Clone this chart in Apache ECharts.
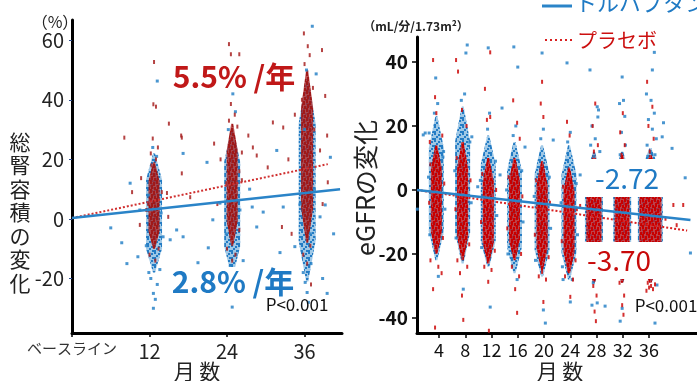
<!DOCTYPE html>
<html>
<head>
<meta charset="utf-8">
<script src="https://cdn.jsdelivr.net/npm/echarts@6/dist/echarts.min.js"></script>
<style>
  html, body { margin: 0; padding: 0; background: #fff; }
  #chart { width: 697px; height: 381px; }
</style>
</head>
<body>
<div id="chart"></div>
<script>
// ── Left panel: total kidney volume change (%) ─────────────────────────────
const tkvTicksX = [0, 12, 24, 36]
const tkvTicksY = [-20, 0, 20, 40, 60]
const tkvVisits = [12.7, 24.8, 36.4]
const tkvBlueCore = [[-18, 22], [-19, 30], [-21, 47]]   // [low, high] of the dense cloud
const tkvRedCore  = [[-10, 19], [-9, 32], [-8, 50]]
const tkvBlueFit = [[0, 0.3], [41.5, 10]]
const tkvRedFit  = [[0, 0.3], [39.6, 18.4]]
const tkvBluePts = [
  [12.2,-20],[13.2,-22],[12.6,-25],[12.9,-27],[12.6,-30],[11.9,-18],[13.6,-17],[12.5,24],[13.1,21],[11.8,8],[13.8,2],[14.1,-6],[11.5,-9],
  [13.2,46.3],[17.2,22],[7.7,-8],[10.2,-12.7],[10.5,3],[15.2,-7],[16.2,-3.7],[17.2,-6],[19.5,-14.7],[20.9,19],[21.1,-9.7],[22.9,5.3],[21.8,-0.3],[9.0,12],[6.0,-3],[8.5,-15],
  [24.5,-16],[25.1,-20],[24.7,-23],[24.9,-25.3],[24.4,-18],[25.4,-12],[23.9,-5],[26.0,3],[24.9,42],[25.3,36],[24.2,30],[24.8,-29.6],
  [27.9,4],[28.6,-2.7],[29.6,2.3],[32.7,4],[32.2,-11.3],[31.7,23],[26.5,-14],[27.5,10],[22.5,-22],[29.0,-18],
  [36.1,-21.3],[36.4,-24.7],[36.6,-28],[35.8,-18],[37.0,-15],[36.3,50],[37.2,64.7],[37.8,48.7],[36.0,30],[37.5,10],[35.3,5],[36.9,-5],
  [38.4,0.7],[39.2,4.7],[34.5,-9.3],[40.0,20.7],[38.8,-20],[40.5,-5],[34.2,-18],[39.5,-25]
]
const tkvRedPts = [
  [12.2,22],[13.3,24],[12.5,27],[13.0,20],[12.0,-12],[13.4,-10],[12.9,-14],[12.3,18],[11.8,5],[13.9,9],
  [8.1,27.3],[9.3,9],[10.7,13.7],[12.7,52.7],[13.0,37.7],[12.6,38.5],[15.0,32],[16.9,28],[14.7,8.7],[14.9,0.7],[17.0,15.3],[17.0,27.3],[18.3,7.3],[22.0,25.3],[10.5,-2],[11.5,3],
  [24.3,33],[25.2,35],[24.6,38.6],[25.6,31],[24.0,-10],[25.3,-12],[23.9,12],[25.9,16],[24.8,-14],
  [24.3,58.7],[24.6,55.3],[25.9,55.3],[26.3,22.3],[26.3,13],[25.9,-3.7],[28.0,24],[28.6,21.3],[30.3,17.3],[31.1,32.4],[32.7,30.7],[27.3,28],[32.5,-2.7],[23.0,20],[22.5,5],
  [36.0,52],[36.8,55],[35.9,62.3],[36.5,58],[37.3,44],[35.6,40],[36.9,-9],[35.8,-12],[36.4,-15],[37.5,30],
  [38.7,56.7],[39.2,41.3],[38.4,23],[39.6,12.3],[34.5,35],[33.5,20],[38.8,5],[39.5,28],[37.0,-22],[34.0,-5]
]

// ── Right panel: eGFR change (mL/min/1.73m²) ───────────────────────────────
const egfrTicksX = [4, 8, 12, 16, 20, 24, 28, 32, 36]
const egfrTicksY = [-40, -20, 0, 20, 40]
const egfrVisits = [3.6, 7.6, 11.5, 15.5, 19.7, 23.8, 27.6, 31.9, 36.2]
const egfrBlueCore = [[-22, 23], [-23, 26], [-24, 17], [-26, 15], [-27, 14], [-28, 14], [-29, 12], [-29, 12], [-29, 13]]
const egfrRedCore  = [[-20, 14], [-22, 15], [-23, 10], [-22, 10], [-25, 9], [-26, 7], [-29, 11], [-29, 11], [-29, 11]]
const egfrBlueFit = [[0.65, 0], [42.3, -9.4]]
const egfrRedFit  = [[0.65, 0], [41.8, -12.7]]
const egfrBluePts = [
  [8.3,45.3],[8.1,42.8],[11.5,44.4],[15.4,44.7],[19.7,42.8],[23.5,39.7],[27.0,37.5],[31.9,35.3],[36.5,37.5],[36.8,43],[16.0,38.4],[3.5,35],[1.6,17.2],[2.5,17.8],[13.6,25.6],[38.0,16.6],[28.1,26],[28.2,22.8],
  [1.9,17.8],[0.7,-6],[4.6,10.3],[9.0,16.6],[9.9,1],[13.3,4.7],[17.1,13.4],[21.4,15.6],[25.5,4.7],
  [3.9,-27],[7.7,-31],[11.8,-36.6],[15.9,-28],[19.9,-37.5],[20.2,-41.6],[24.0,-35],[24.3,-28],[22.9,-28],
  [27.3,-36],[28.1,-35.3],[29.3,-36.3],[31.6,-41],[31.9,-37],[36.9,-41.6],[27.5,-29],[37.2,-29.7],
  [27.3,20],[27.8,16],[28.5,12],[27.6,10.5],[28.3,25],[27.1,14],
  [31.5,27],[32.3,23],[31.8,18],[32.4,14],[31.6,11],[32.1,28],
  [35.6,30],[36.3,28],[36.8,24],[35.9,22],[36.5,19],[37.1,16],[35.7,14],[36.2,12],[36.9,11],[35.8,10.5],[38.2,21],[39.5,13],
  [41.5,3.8],[42.3,-19.7],
  [2.4,4],[4.9,-6],[2.6,-14],[4.7,12],[3.3,24],[3.8,27],
  [6.4,6],[8.9,-4],[6.6,-15],[8.7,15],[7.4,28],[7.9,30],
  [10.3,3],[12.8,-8],[10.5,-18],[12.6,9],[11.4,19],[11.7,24],
  [14.3,0],[16.8,-10],[14.5,-20],[16.6,6],[15.3,17],[15.7,20],
  [18.5,-2],[21.0,-12],[18.7,-22],[20.8,4],[19.5,16],[19.9,19],
  [22.6,-4],[25.1,-14],[22.8,-24],[24.9,2],[23.6,15],[24.0,18]
]
const egfrRedPts = [
  [3.1,40.6],[3.4,29],[3.6,24],[2.6,15],[4.5,17],[3.1,-31],[3.4,-43],[3.9,-24],[2.7,-22],[4.4,-26],
  [6.6,40.6],[6.9,37],[7.5,25],[8.2,20],[7.2,-26],[7.5,-33],[7.7,-40.6],[8.3,-24],[6.8,-22],
  [11.8,43],[11.0,31.6],[11.8,22.8],[11.3,21.9],[11.5,-28.7],[12.0,-25],[10.9,-24],[11.6,-44],
  [15.3,28],[15.9,21],[16.3,16],[15.6,-31],[15.9,-38.4],[15.1,-24],[16.2,-27],
  [19.7,33.8],[19.9,22.8],[19.5,27],[19.7,-25.6],[19.9,-35],[20.3,-28],[19.2,-27],
  [23.5,21.3],[23.9,17],[23.7,-25],[24.0,-33.4],[24.4,-28],[23.2,-27],[26.6,-22.8],[25.5,-5],
  [27.8,27],[27.4,20],[28.2,14],[27.6,12],[27.5,-30],[28.0,-33],[27.7,-38],[27.9,-41],
  [32.0,24],[31.6,18],[32.3,14],[31.8,11],[31.5,-29],[32.2,-33],[31.9,-36],[32.1,-39],
  [35.7,33.8],[36.5,26],[35.9,20],[36.7,16],[36.1,12],[35.8,-29],[36.3,-30],[36.6,-31],[36.0,-30.5],[36.9,-29.5],[35.6,-31.5],
  [39.7,-4.7],[41.2,-4.7],[38.5,-9],[40.2,-11],
  [2.5,-4],[4.8,2],[2.7,8],[4.6,-15],
  [6.5,-6],[8.8,3],[6.7,10],[8.6,-17],
  [10.4,-10],[12.7,0],[10.6,5],[12.5,-19],
  [14.4,-12],[16.7,-2],[14.6,4],[16.5,-20],
  [18.6,-14],[20.9,-4],[18.8,3],[20.7,-21],
  [22.7,-16],[25.0,-6],[22.9,1],[24.8,-22]
]

// ── styles ────────────────────────────────────────────────────────────────
const BLUE = '#2a84c8'
const RED_L = '#a82222'
const RED_R = '#cc0a0a'
const JP = '"Noto Sans CJK JP", "Noto Sans", sans-serif'
const tkvBlueW = [16, 16, 17]
const tkvRedW = [11, 11, 12]
const egfrBlueW = [15, 15, 15, 15, 15, 15, 18, 18, 25]
const egfrRedW = [11, 11, 11, 11, 11, 11, 15, 15, 22]

// small speckle tile used to fill the dense part of each cloud
function speckle(w, h, bg, ink, cells) {
  const c = document.createElement('canvas')
  c.width = w; c.height = h
  const g = c.getContext('2d')
  g.fillStyle = bg; g.fillRect(0, 0, w, h)
  g.fillStyle = ink
  cells.forEach(([x, y, cw, ch]) => g.fillRect(x, y, cw, ch))
  return { image: c, repeat: 'repeat' }
}
const blueTile = speckle(7, 7, 'rgba(42,132,200,0.45)', 'rgba(30,120,195,0.95)',
  [[0, 0, 2, 2], [4, 1, 2, 2], [2, 3, 2, 2], [5, 5, 2, 2], [0, 5, 2, 2]])
const redTileL = speckle(6, 9, 'rgba(172,38,38,0.8)', 'rgba(160,25,25,1)',
  [[0, 0, 2, 4], [3, 2, 2, 4], [1, 5, 2, 4], [4, 7, 2, 2], [4, 0, 2, 1]])
const redTileR = speckle(6, 9, 'rgba(205,20,20,0.75)', 'rgba(200,0,0,1)',
  [[0, 0, 2, 4], [3, 2, 2, 4], [1, 5, 2, 4], [4, 7, 2, 2], [4, 0, 2, 1]])

function cloudSeries(visits, core, widths, tile, gi) {
  return {
    type: 'custom',
    xAxisIndex: gi, yAxisIndex: gi,
    silent: true,
    encode: { x: 0, y: [1, 2] },
    data: visits.map((m, i) => [m, core[i][0], core[i][1]]),
    renderItem: (params, api) => {
      const top = api.coord([api.value(0), api.value(2)])
      const bot = api.coord([api.value(0), api.value(1)])
      const hw = widths[params.dataIndex] / 2
      const cx = top[0], h = bot[1] - top[1]
      return {
        type: 'polygon',
        shape: {
          points: [
            [cx - 1, top[1]], [cx + 1, top[1]],
            [cx + hw, top[1] + h * 0.22], [cx + hw, top[1] + h * 0.8],
            [cx + 1, bot[1]], [cx - 1, bot[1]],
            [cx - hw, top[1] + h * 0.8], [cx - hw, top[1] + h * 0.22],
          ],
        },
        style: { fill: tile },
      }
    },
  }
}

function dots(data, color, size, gi) {
  return {
    type: 'scatter', xAxisIndex: gi, yAxisIndex: gi, silent: true,
    data, symbol: 'rect', symbolSize: size,
    itemStyle: { color, opacity: 0.85 },
  }
}

function fit(data, color, dotted, gi) {
  return {
    type: 'line', xAxisIndex: gi, yAxisIndex: gi, silent: true,
    data, showSymbol: false,
    lineStyle: dotted ? { color, width: 2, type: [2, 2] } : { color, width: 2.5 },
  }
}

function text(x, y, str, font, fill, extra) {
  const el = {
    type: 'text', x, y, z: 60,
    style: { text: str, font, fill, align: 'center', verticalAlign: 'middle' },
  }
  if (extra && extra.style) Object.assign(el.style, extra.style)
  if (extra && extra.rotation) el.rotation = extra.rotation
  return el
}

const axisLine = { onZero: false, lineStyle: { color: '#000', width: 3 } }
const boxed = { style: { backgroundColor: '#fff', padding: [0, 3] } }

const chart = echarts.init(document.getElementById('chart'), null, { renderer: 'canvas' })
chart.setOption({
  animation: false,
  grid: [
    { left: 72, top: 20, width: 270, height: 313 },
    { left: 417, top: 37, width: 280, height: 296 },
  ],
  xAxis: [
    {
      gridIndex: 0, type: 'value', min: 0, max: 41.8,
      axisLine, splitLine: { show: false },
      axisTick: { customValues: tkvTicksX, length: 4, lineStyle: { color: '#000', width: 1.5 } },
      axisLabel: {
        customValues: tkvTicksX, margin: 8, fontSize: 20, color: '#222', fontFamily: JP,
        formatter: v => v === 0 ? '{b|ベースライン}' : String(v),
        rich: { b: { fontSize: 15, color: '#333', fontFamily: JP, padding: [0, 0, 6, 0] } },
      },
    },
    {
      gridIndex: 1, type: 'value', min: 0.65, max: 43.3,
      axisLine, splitLine: { show: false },
      axisTick: { customValues: egfrTicksX, length: 5, lineStyle: { color: '#000', width: 1.5 } },
      axisLabel: { customValues: egfrTicksX, margin: 8, fontSize: 18, color: '#111', fontFamily: JP },
    },
  ],
  yAxis: [
    {
      gridIndex: 0, type: 'value', min: -38.3, max: 66.8,
      axisLine, splitLine: { show: false },
      axisTick: { customValues: tkvTicksY, length: 3, lineStyle: { color: '#2a4a8a', width: 1 } },
      axisLabel: { customValues: tkvTicksY, margin: 8, fontSize: 20, color: '#222', fontFamily: JP },
    },
    {
      gridIndex: 1, type: 'value', min: -44.7, max: 47.8,
      axisLine, splitLine: { show: false },
      axisTick: { customValues: egfrTicksY, length: 5, lineStyle: { color: '#000', width: 1.5 } },
      axisLabel: { customValues: egfrTicksY, margin: 9, fontSize: 19, fontWeight: 'bold', color: '#111', fontFamily: JP },
    },
  ],
  series: [
    cloudSeries(tkvVisits, tkvBlueCore, tkvBlueW, blueTile, 0),
    cloudSeries(tkvVisits, tkvRedCore, tkvRedW, redTileL, 0),
    dots(tkvBluePts, BLUE, [3, 3], 0),
    dots(tkvRedPts, RED_L, [2, 4], 0),
    fit(tkvRedFit, '#d03030', true, 0),
    fit(tkvBlueFit, BLUE, false, 0),

    cloudSeries(egfrVisits, egfrBlueCore, egfrBlueW, blueTile, 1),
    cloudSeries(egfrVisits, egfrRedCore, egfrRedW, redTileR, 1),
    dots(egfrBluePts, BLUE, [3, 3], 1),
    dots(egfrRedPts, RED_R, [2, 4], 1),
    fit(egfrRedFit, '#d82020', true, 1),
    fit(egfrBlueFit, BLUE, false, 1),
  ],
  graphic: [
    // left panel annotations
    text(55, 22, '（%）', `16px ${JP}`, '#222'),
    {
      type: 'text', x: 20, y: 130, z: 60,
      style: { text: '総\n腎\n容\n積\nの\n変\n化', font: `21px ${JP}`, lineHeight: 23.5, fill: '#222', align: 'center', verticalAlign: 'top' },
    },
    text(234, 77, '5.5% /年', `bold 30px ${JP}`, '#c01818', boxed),
    text(233, 282, '2.8% /年', `bold 30px ${JP}`, '#1f7ac4', boxed),
    text(297, 305, 'P<0.001', `17px ${JP}`, '#111'),
    text(197, 371, '月 数', `21px ${JP}`, '#222'),

    // right panel annotations
    text(416, 26, '（mL/分/1.73m²）', `bold 12px ${JP}`, '#222'),
    text(365, 188, 'eGFRの変化', `25px ${JP}`, '#222', { rotation: Math.PI / 2 }),
    text(560, 371, '月 数', `21px ${JP}`, '#222'),
    { type: 'rect', z: 55, shape: { x: 583, y: 159, width: 88, height: 38 }, style: { fill: '#fff' } },
    { type: 'rect', z: 55, shape: { x: 583, y: 242, width: 88, height: 37 }, style: { fill: '#fff' } },
    text(627, 178, '-2.72', `28px ${JP}`, '#1f7ac4'),
    text(619, 260, '-3.70', `28px ${JP}`, '#c80a0a'),
    text(666, 306, 'P<0.001', `17px ${JP}`, '#111'),

    // legend
    { type: 'line', z: 60, shape: { x1: 542, y1: 6, x2: 572, y2: 6 }, style: { stroke: BLUE, lineWidth: 3 } },
    { type: 'text', x: 575, y: 3, z: 60, style: { text: 'トルバプタン', font: `22px ${JP}`, fill: '#1f7ac4', align: 'left', verticalAlign: 'middle' } },
    { type: 'line', z: 60, shape: { x1: 545, y1: 40, x2: 575, y2: 40 }, style: { stroke: '#d82020', lineWidth: 2, lineDash: [2, 3] } },
    { type: 'text', x: 577, y: 40, z: 60, style: { text: 'プラセボ', font: `20px ${JP}`, fill: '#cc1010', align: 'left', verticalAlign: 'middle' } },
  ],
})
</script>
</body>
</html>
